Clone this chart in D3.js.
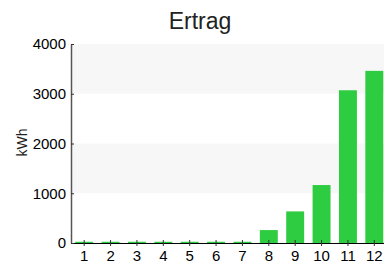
<html>
<head>
<script src="https://d3js.org/d3.v7.min.js"></script>
<style>
  body { margin: 0; background: #fff; }
  text { font-family: "Liberation Sans", Arial, sans-serif; }
</style>
</head>
<body>
<script>
var months = ["1", "2", "3", "4", "5", "6", "7", "8", "9", "10", "11", "12"];
var ertrag = [25, 25, 25, 25, 25, 25, 25, 260, 635, 1165, 3070, 3460];
var yTicks = [0, 1000, 2000, 3000, 4000];

var width = 384, height = 265;
var margin = {top: 44, right: -3.5, bottom: 22, left: 71};

var svg = d3.select("body").append("svg")
    .attr("width", width)
    .attr("height", height);

var x = d3.scaleBand()
    .domain(months)
    .range([margin.left, width - margin.right])
    .paddingInner(0.32)
    .paddingOuter(0.16);

var y = d3.scaleLinear()
    .domain([0, 4000])
    .range([height - margin.bottom, margin.top]);

// alternating bands
svg.selectAll("rect.band")
    .data([[1000, 2000], [3000, 4000]])
    .enter().append("rect")
    .attr("class", "band")
    .attr("x", margin.left)
    .attr("width", width - margin.left)
    .attr("y", function(d) { return y(d[1]); })
    .attr("height", function(d) { return y(d[0]) - y(d[1]); })
    .style("fill", "#f7f7f7");

svg.selectAll("rect.bar")
    .data(ertrag)
    .enter().append("rect")
    .attr("class", "bar")
    .attr("x", function(d, i) { return x(months[i]); })
    .attr("width", x.bandwidth())
    .attr("y", function(d) { return y(d); })
    .attr("height", function(d) { return y(0) - y(d); })
    .style("fill", "#2ecc40");

var xAxis = svg.append("g")
    .attr("transform", "translate(0," + y(0) + ")")
    .call(d3.axisBottom(x).tickSizeInner(3).tickSizeOuter(0).tickPadding(4));
xAxis.select(".domain").attr("d", "M" + margin.left + ",0.5H" + width).attr("stroke", "#000");
xAxis.selectAll(".tick line").attr("y1", -3).attr("stroke", "#333");
xAxis.selectAll("text").style("font-size", "15px").attr("fill", "#000");

var yAxis = svg.append("g")
    .attr("transform", "translate(" + margin.left + ",0)")
    .call(d3.axisLeft(y).tickValues(yTicks).tickSizeInner(4).tickSizeOuter(0).tickPadding(1).tickFormat(d3.format("d")));
yAxis.select(".domain").attr("stroke", "#555").attr("stroke-width", 1.5);
yAxis.selectAll(".tick line").attr("x2", 3).attr("stroke", "#333");
yAxis.selectAll("text").style("font-size", "15px").attr("fill", "#000");

svg.append("text")
    .attr("x", 200)
    .attr("y", 29)
    .attr("text-anchor", "middle")
    .style("font-size", "23px")
    .style("fill", "#222")
    .text("Ertrag");

svg.append("text")
    .attr("transform", "translate(26.5," + ((y(0) + y(4000)) / 2 - 1) + ") rotate(-90)")
    .attr("text-anchor", "middle")
    .style("font-size", "14px")
    .style("fill", "#222")
    .text("kWh");
</script>
</body>
</html>
